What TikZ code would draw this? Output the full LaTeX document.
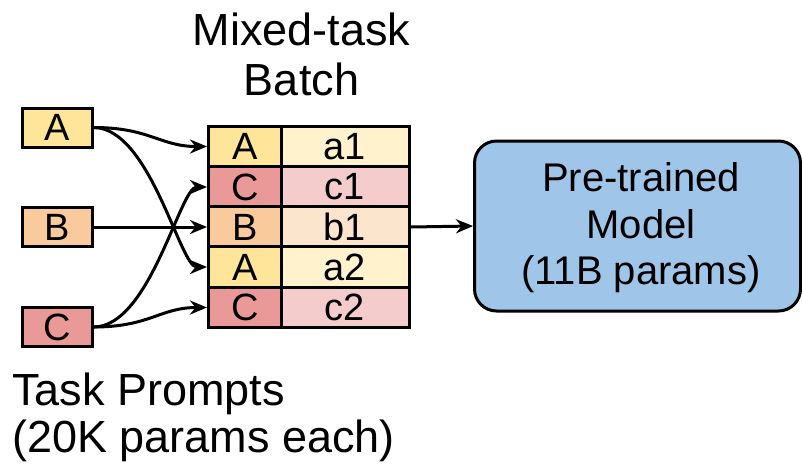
\documentclass[tikz,border=0pt]{standalone}
\usepackage{fontspec}
\setmainfont{Liberation Sans}
\usetikzlibrary{arrows.meta}

\definecolor{ayel}{HTML}{FFE599}
\definecolor{aylt}{HTML}{FFF2CC}
\definecolor{bora}{HTML}{F9CB9C}
\definecolor{bolt}{HTML}{FCE5CD}
\definecolor{cred}{HTML}{EA9999}
\definecolor{crlt}{HTML}{F4CCCC}
\definecolor{mblue}{HTML}{9FC5E8}

\tikzset{
  prompt/.style={draw, line width=3pt, minimum width=70pt, minimum height=39pt,
    inner sep=0pt, font=\fontsize{38}{40}\selectfont},
  tagcell/.style={draw, line width=3pt, minimum width=73pt, minimum height=40.4pt,
    inner sep=0pt, font=\fontsize{38}{40}\selectfont},
  datacell/.style={draw, line width=3pt, minimum width=128pt, minimum height=40.4pt,
    inner sep=0pt, font=\fontsize{38}{40}\selectfont},
  model/.style={draw, line width=3pt, fill=mblue, rounded corners=22pt,
    minimum width=326pt, minimum height=170pt, inner sep=0pt},
  bigtext/.style={inner sep=0pt, font=\fontsize{45}{50}\selectfont},
  flow/.style={line width=3pt, -{Stealth[length=17pt, width=14pt, inset=5.5pt]}}
}

\begin{document}
\begin{tikzpicture}[x=1pt, y=-1pt]
\useasboundingbox (0,0) rectangle (802,467);

% task prompt boxes
\node[prompt, fill=ayel] (pA) at (57,127.5) {A};
\node[prompt, fill=bora] (pB) at (57,227) {B};
\node[prompt, fill=cred] (pC) at (57,327) {C};

% mixed-task batch table
\node[tagcell, fill=ayel] (t1) at (245,146.5) {A};
\node[tagcell, fill=cred] (t2) at (245,187) {C};
\node[tagcell, fill=bora] (t3) at (245,227) {B};
\node[tagcell, fill=ayel] (t4) at (245,267) {A};
\node[tagcell, fill=cred] (t5) at (245,307.5) {C};
\node[datacell, fill=aylt] (d1) at (345,146.5) {a1};
\node[datacell, fill=crlt] (d2) at (345,187) {c1};
\node[datacell, fill=bolt] (d3) at (345,227) {b1};
\node[datacell, fill=aylt] (d4) at (345,267) {a2};
\node[datacell, fill=crlt] (d5) at (345,307.5) {c2};

% pre-trained model
\node[model] (M) at (637.5,226) {};
\node[inner sep=0pt, align=center, font=\fontsize{40}{46.5}\selectfont] (Mt) at (641,228)
  {Pre-trained\\Model\\(11B params)};

% labels
\node[bigtext, align=center, anchor=north] (lbatch) at (301.5,13) {Mixed-task\\Batch};
\node[bigtext, align=left, anchor=north west, font=\fontsize{45}{47}\selectfont] (lprompt) at (12,373)
  {Task Prompts\\(20K params each)};

% routing of prompts into the batch
\draw[flow] (pA.east) .. controls (150,127.5) and (160,146.5) .. (t1.west);
\draw[flow] (pA.east) .. controls (150,127.5) and (180,267) .. (t4.west);
\draw[flow] (pB.east) -- (t3.west);
\draw[flow] (pC.east) .. controls (150,327) and (180,187) .. (t2.west);
\draw[flow] (pC.east) .. controls (150,327) and (160,307.5) .. (t5.west);

% batch into model
\draw[flow] (d3.east) -- (M.west);
\end{tikzpicture}
\end{document}
